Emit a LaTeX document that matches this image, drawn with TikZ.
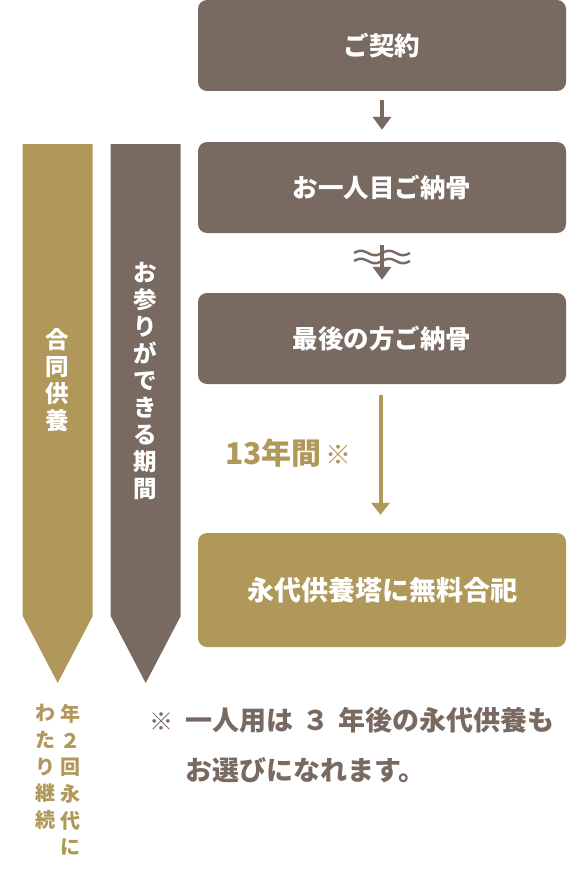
\documentclass[tikz,border=0pt]{standalone}
\usepackage{fontspec}
\setmainfont{Noto Sans CJK JP}
\usetikzlibrary{arrows.meta}
\definecolor{mybrown}{HTML}{786A60}
\definecolor{mygold}{HTML}{B0985A}
\newcommand\bxfont{\fontsize{25.5}{25.5}\selectfont\bfseries}
\newcommand\gbxfont{\fontsize{27}{27}\selectfont\bfseries}
\newcommand\vfont{\fontsize{23.5}{27}\selectfont\bfseries}
\newcommand\vsfont{\fontsize{20}{26.7}\selectfont\bfseries}
\begin{document}
\begin{tikzpicture}[x=1pt,y=-1pt,
  stepbox/.style={fill=mybrown, rounded corners=9pt, minimum width=368pt, minimum height=91pt, inner sep=0pt, text=white, font=\bxfont},
  goldbox/.style={stepbox, fill=mygold, minimum height=114pt, font=\gbxfont},
  arr/.style={draw=mybrown, line width=4pt, -{Triangle[width=18pt,length=13pt]}},
  arrg/.style={draw=mygold, line width=4pt, -{Triangle[width=18pt,length=12pt]}},
  vtext/.style={align=center, inner sep=0pt, text=white, font=\vfont},
  vsmall/.style={align=center, inner sep=0pt, text=mygold, font=\vsfont, anchor=north},
  wave/.style={draw=mybrown, line width=2.4pt},
  notetext/.style={anchor=base west, inner sep=0pt, text=mybrown, font=\fontsize{27}{27}\selectfont\bfseries}
]
\useasboundingbox (0,0) rectangle (570,880);

% left pennant arrows
\fill[mygold] (22.7,144) -- (92.7,144) -- (92.7,616) -- (57.7,683) -- (22.7,616) -- cycle;
\fill[mybrown] (110.7,144) -- (180.7,144) -- (180.7,616) -- (145.7,683) -- (110.7,616) -- cycle;
\node[vtext] (goudou) at (57.7,380) {合\\同\\供\\養};
\node[vtext] (omairi) at (145.7,381) {お\\参\\り\\が\\で\\き\\る\\期\\間};

% steps
\node[stepbox] (b1) at (382,45.5) {ご契約};
\node[stepbox] (b2) at (382,187.5) {お一人目ご納骨};
\node[stepbox] (b3) at (382,338.5) {最後の方ご納骨};
\node[goldbox] (b4) at (382,590) {永代供養塔に無料合祀};

% connectors
\draw[arr, shorten <=9pt, shorten >=12pt] (b1.south) -- (b2.north);
\draw[arr, shorten <=12pt, shorten >=13pt] (b2.south) -- (b3.north);
\draw[wave] plot[domain=354:410, samples=80] (\x, {253 - 2.2*sin((\x-354)/28*360)});
\draw[wave] plot[domain=354:410, samples=80] (\x, {261 - 2.2*sin((\x-354)/28*360)});
\draw[arrg, shorten <=11pt, shorten >=18pt] ([xshift=-1.5pt]b3.south) -- ([xshift=-1.5pt]b4.north);

\node[anchor=west, inner sep=0pt, text=mygold, font=\fontsize{30}{30}\selectfont\bfseries] (years) at (225,453) {13年間\hspace{4pt}{\fontsize{26}{26}\selectfont\mdseries ※}};

% bottom left vertical text
\node[vsmall] (nen) at (70,704) {年\\２\\回\\永\\代\\に};
\node[vsmall] (wata) at (45,704) {わ\\た\\り\\継\\続};

% note
\node[notetext, font=\fontsize{24}{24}\selectfont] (kome) at (149,730) {※};
\node[notetext] (note1) at (185,730) {一人用は\hspace{9pt}３\hspace{9pt}年後の永代供養も};
\node[notetext] (note2) at (185,780) {お選びになれます。};
\end{tikzpicture}
\end{document}
